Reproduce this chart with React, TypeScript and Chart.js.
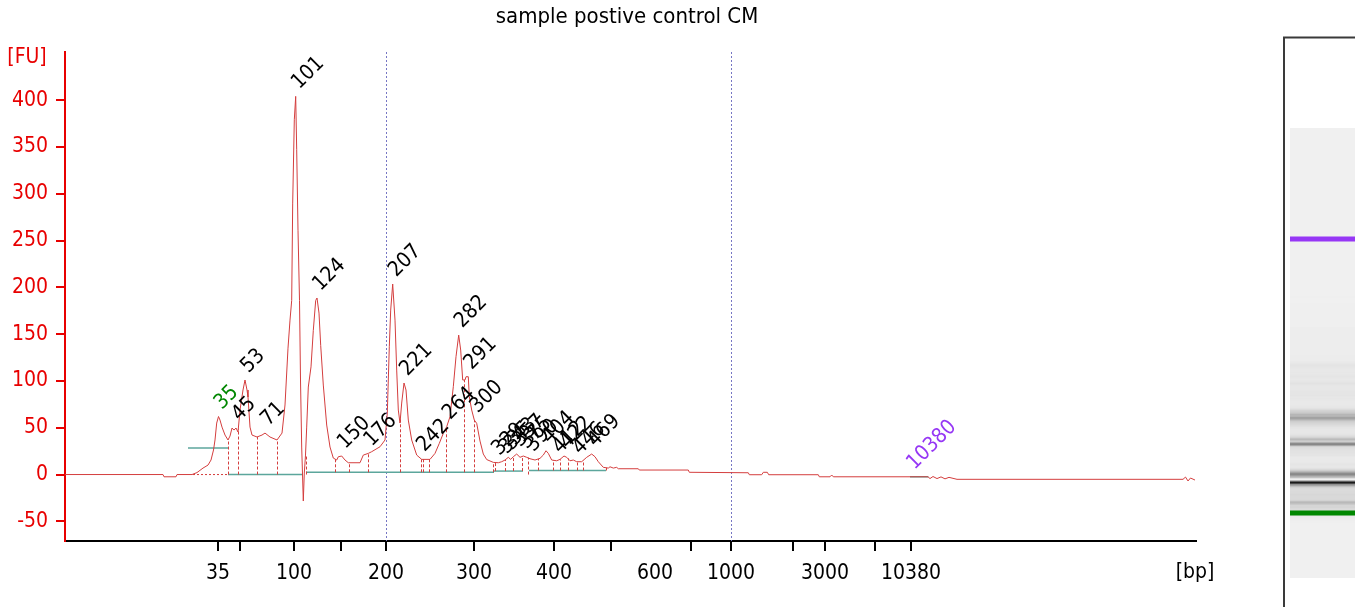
import React, { useEffect, useRef } from 'react';
import { Chart, registerables } from 'chart.js';

Chart.register(...registerables);

const FONT = "'DejaVu Sans Condensed', 'Liberation Sans', sans-serif";
const TRACE = 'rgb(212,62,62)';
const AXIS_RED = 'rgb(232,0,0)';
const TEAL = 'rgb(92,166,156)';
const GUIDE = 'rgb(118,118,196)';
const LOWER_COLOR = 'rgb(0,135,0)';
const UPPER_COLOR = 'rgb(150,55,245)';

const chartTitle = 'sample postive control CM';

// migration time (s) and fluorescence (FU)
const traceTime = [28.0, 37.8, 37.9, 39.1, 39.2, 40.7, 41.2, 41.8, 42.3, 42.6,
  42.85, 43.0, 43.17, 43.35, 43.5, 43.7, 44.0, 44.3, 44.5, 44.7,
  44.9, 45.1, 45.3, 45.5, 45.8, 46.0, 46.2, 46.3, 46.5, 46.7,
  47.2, 47.7, 48.0, 48.5, 49.2, 49.7, 50.0, 50.3, 50.5, 50.67,
  50.77, 50.93, 51.07, 51.17, 51.3, 51.45, 51.55, 51.67, 51.83, 51.93,
  52.05, 52.17, 52.33, 52.6, 52.83, 53.07, 53.2, 53.4, 53.57, 53.83,
  54.17, 54.5, 54.83, 55.17, 55.33, 55.67, 56.0, 56.33, 57.5, 57.83,
  58.33, 58.67, 59.5, 60.0, 60.23, 60.43, 60.57, 60.77, 61.0, 61.17,
  61.33, 61.5, 61.67, 61.9, 62.1, 62.33, 62.67, 63.17, 63.67, 64.5,
  65.0, 65.43, 65.83, 66.17, 66.5, 66.83, 67.1, 67.37, 67.57, 67.77,
  68.0, 68.1, 68.33, 68.43, 68.67, 68.93, 69.17, 69.5, 69.83, 70.17,
  70.83, 71.33, 71.67, 72.0, 72.33, 72.57, 72.83, 73.17, 73.5, 73.83,
  74.17, 74.5, 75.0, 75.5, 75.83, 76.1, 76.33, 76.67, 77.17, 77.5,
  77.9, 78.17, 78.5, 78.83, 79.17, 79.67, 80.17, 80.67, 81.0, 81.33,
  81.83, 82.33, 82.5, 82.83, 83.17, 83.33, 85.33, 85.43, 90.33, 90.43,
  96.33, 96.43, 97.67, 97.83, 98.23, 98.37, 103.33, 103.43, 104.5, 104.67,
  104.83, 114.3, 114.5, 114.8, 115.2, 115.6, 116.0, 116.4, 117.2, 139.8,
  140.05, 140.3, 140.55, 141.0];

const traceFU = [0, 0, -2.4, -2.4, 0, 0, 2.1, 6.9, 10.1, 15.5,
  26.2, 36.9, 55, 62, 58.2, 50.7, 42.2, 36.9, 41.1, 49.7,
  47.5, 49.7, 45.4, 68.9, 90.3, 101, 90.3, 82.8, 50.7, 42.2,
  40.1, 42.2, 44.3, 40.1, 36.9, 44.3, 74.3, 135, 165, 186,
  290, 379, 404, 347, 261, 186, 101, 29.4, -28.3, 1.6,
  20.8, 50.7, 93.5, 115, 154, 186, 188.6, 172.5, 138, 95.6,
  52.9, 29.4, 17.6, 15.5, 19, 19.8, 15.5, 12.6, 12.6, 20.8,
  22.6, 24.4, 29.7, 36.9, 65.7, 136.5, 175.7, 203.5, 165, 111.6,
  68.9, 55, 76.4, 97.8, 90.3, 58.2, 36.9, 20.8, 16.2, 16.2,
  22.6, 33.3, 44, 51.1, 61.8, 93.8, 125.9, 149, 133, 101,
  101, 104.5, 104.5, 83.1, 68.9, 58.2, 54.7, 35.8, 21.9, 16,
  13, 12.6, 13.7, 15.5, 18.4, 16.2, 19, 21.9, 18.4, 19.8,
  18.4, 16.9, 15.5, 17.3, 20.8, 25.4, 22.6, 15.5, 14.7, 16.2,
  19.8, 18.4, 14.7, 15.5, 13.7, 13.7, 18.4, 21.9, 19, 13.7,
  7.7, 6.9, 8.3, 6.9, 7.7, 6.2, 6.2, 4.8, 4.8, 2.4,
  1.9, -0.2, -0.2, 2.4, 2.4, -0.2, -0.2, -2.4, -2.4, -0.5,
  -2.4, -2.4, -4.3, -2.1, -4.3, -2.5, -4.6, -3.0, -5.1, -5.1,
  -2.7, -6.9, -3.7, -5.9];

// ladder positions on the time axis
const xTickTimes = [43.3, 45.5, 50.9, 55.6, 60.1, 68.9, 76.9, 82.6, 87.0, 90.6, 94.6, 100.8, 104.0, 109.0, 112.6];
const xTickLabels = ['35', '', '100', '', '200', '300', '400', '', '600', '', '1000', '', '3000', '', '10380'];
const yTicks = [-50, 0, 50, 100, 150, 200, 250, 300, 350, 400];

// size guides (200 bp, 1000 bp)
const guideTimes = [60.1, 94.6];

// called peaks
const peakLabels = ['45', '53', '71', '101', '124', '150', '176', '207', '221', '242', '264', '282', '291', '300',
  '329', '335', '343', '357', '375', '390', '404', '412', '422', '446', '469'];
const peakTimes = [45.1, 46.0, 48.0, 51.07, 53.2, 55.67, 58.33, 60.77, 61.9, 63.6, 66.17, 67.37, 68.33, 68.93,
  71.1, 71.83, 72.33, 73.17, 73.83, 74.5, 76.1, 77.17, 77.9, 79.17, 80.67];

// markers: lower, upper
const markerLabels = ['35', '10380'];
const markerTimes = [43.35, 112.6];

// peak region boundaries
const boundaryTimes = [44.33, 45.33, 47.17, 49.17, 52.05, 55.0, 56.37, 58.33, 61.53, 63.57, 63.83, 64.43,
  66.1, 67.93, 68.93, 70.83, 71.0, 72.0, 72.83, 73.67, 74.25, 75.33, 76.77, 77.5, 78.27, 79.17, 79.83, 82.1];

// baselines
const baseStart = [40.3, 44.3, 52.1, 70.9, 74.4, 112.5];
const baseEnd = [44.3, 51.8, 70.9, 73.8, 82.1, 114.33];
const baseFU = [28.3, 0, 2.4, 3.7, 4.3, -2.4];
const markerBaseStart = [40.8];
const markerBaseEnd = [44.3];

function interp(t: number): number {
  if (t <= traceTime[0]) return traceFU[0];
  for (let i = 1; i < traceTime.length; i++) {
    if (t <= traceTime[i]) {
      const t0 = traceTime[i - 1];
      const t1 = traceTime[i];
      const f = (t - t0) / (t1 - t0);
      return traceFU[i - 1] + f * (traceFU[i] - traceFU[i - 1]);
    }
  }
  return traceFU[traceFU.length - 1];
}

function baselineAt(t: number): number {
  for (let i = 0; i < baseStart.length; i++) {
    if (t >= baseStart[i] && t <= baseEnd[i]) return baseFU[i];
  }
  return 0;
}

// gel lane layout
const GEL_LEFT = 1290;
const GEL_RIGHT = 1361;
const GEL_TOP = 128;
const GEL_BOTTOM = 578;
const GEL_LOW_Y = 513;
const GEL_HIGH_Y = 239;

function gelY(t: number): number {
  return GEL_LOW_Y + (t - markerTimes[0]) / (markerTimes[1] - markerTimes[0]) * (GEL_HIGH_Y - GEL_LOW_Y);
}
function gelT(y: number): number {
  return markerTimes[0] + (y - GEL_LOW_Y) / (GEL_HIGH_Y - GEL_LOW_Y) * (markerTimes[1] - markerTimes[0]);
}

const overlay = {
  id: 'overlay',
  beforeDatasetsDraw(chart: any) {
    const { ctx, chartArea, scales } = chart;
    const x = scales.x;
    ctx.save();
    ctx.strokeStyle = GUIDE;
    ctx.lineWidth = 1;
    ctx.setLineDash([2, 2]);
    for (const t of guideTimes) {
      const px = Math.round(x.getPixelForValue(t)) + 0.5;
      ctx.beginPath();
      ctx.moveTo(px, chartArea.top);
      ctx.lineTo(px, chartArea.bottom);
      ctx.stroke();
    }
    ctx.restore();
  },
  afterDatasetsDraw(chart: any) {
    const { ctx, chartArea, scales } = chart;
    const x = scales.x;
    const y = scales.y;
    ctx.save();
    ctx.beginPath();
    ctx.rect(chartArea.left, chartArea.top, chartArea.right - chartArea.left, chartArea.bottom - chartArea.top);
    ctx.clip();
    ctx.strokeStyle = TRACE;
    ctx.lineWidth = 1;
    ctx.setLineDash([3, 2]);
    for (const t of boundaryTimes) {
      const px = Math.round(x.getPixelForValue(t)) + 0.5;
      ctx.beginPath();
      ctx.moveTo(px, y.getPixelForValue(baselineAt(t)));
      ctx.lineTo(px, y.getPixelForValue(interp(t)));
      ctx.stroke();
    }
    ctx.restore();
  },
  afterDraw(chart: any) {
    const { ctx, scales } = chart;
    const x = scales.x;
    const y = scales.y;
    ctx.save();
    // title and unit labels
    ctx.fillStyle = '#000';
    ctx.font = `22px ${FONT}`;
    ctx.textAlign = 'center';
    ctx.textBaseline = 'middle';
    ctx.fillText(chartTitle, 627, 17);
    ctx.font = `21px ${FONT}`;
    ctx.fillStyle = AXIS_RED;
    ctx.fillText('[FU]', 27, 58);
    ctx.fillStyle = '#000';
    ctx.fillText('[bp]', 1195, 573);

    // peak labels
    const drawLabel = (text: string, t: number, color: string) => {
      const px = x.getPixelForValue(t);
      const py = y.getPixelForValue(interp(t));
      ctx.save();
      ctx.translate(px + 3.5, py - 6.5);
      ctx.rotate(-Math.PI / 4);
      ctx.fillStyle = color;
      ctx.textAlign = 'left';
      ctx.textBaseline = 'alphabetic';
      ctx.font = `21px ${FONT}`;
      ctx.fillText(text, 0, 0);
      ctx.restore();
    };
    peakLabels.forEach((l, i) => drawLabel(l, peakTimes[i], '#000'));
    drawLabel(markerLabels[0], markerTimes[0], LOWER_COLOR);
    drawLabel(markerLabels[1], markerTimes[1], UPPER_COLOR);

    // gel lane
    ctx.strokeStyle = '#3a3a3a';
    ctx.lineWidth = 2;
    ctx.setLineDash([]);
    ctx.beginPath();
    ctx.moveTo(1284, 607);
    ctx.lineTo(1284, 37.5);
    ctx.lineTo(1360, 37.5);
    ctx.stroke();
    for (let row = GEL_TOP; row < GEL_BOTTOM; row++) {
      const ta = gelT(row + 1);
      const tb = gelT(row);
      let s = 0;
      for (let k = 0; k < 8; k++) s += interp(ta + (tb - ta) * (k + 0.5) / 8);
      const avg = Math.max(0, s / 8);
      const g = Math.max(0, Math.min(240, Math.round(240 - 0.56 * avg)));
      ctx.fillStyle = `rgb(${g},${g},${g})`;
      ctx.fillRect(GEL_LEFT, row, GEL_RIGHT - GEL_LEFT, 1);
    }
    ctx.fillStyle = LOWER_COLOR;
    ctx.fillRect(GEL_LEFT, gelY(markerTimes[0]) - 2.5, GEL_RIGHT - GEL_LEFT, 5);
    ctx.fillStyle = UPPER_COLOR;
    ctx.fillRect(GEL_LEFT, gelY(markerTimes[1]) - 2.5, GEL_RIGHT - GEL_LEFT, 5);
    ctx.restore();
  },
};

export default function App() {
  const ref = useRef<HTMLCanvasElement>(null);
  useEffect(() => {
    document.body.style.margin = '0';
    const datasets: any[] = [
      {
        data: traceTime.map((t, i) => ({ x: t, y: traceFU[i] })),
        borderColor: TRACE,
        borderWidth: 1,
        pointRadius: 0,
        tension: 0,
      },
    ];
    baseStart.forEach((s, i) => {
      datasets.push({
        data: [{ x: s, y: baseFU[i] }, { x: baseEnd[i], y: baseFU[i] }],
        borderColor: TEAL,
        borderWidth: 1.5,
        pointRadius: 0,
      });
    });
    markerBaseStart.forEach((s, i) => {
      datasets.push({
        data: [{ x: s, y: 0 }, { x: markerBaseEnd[i], y: 0 }],
        borderColor: TRACE,
        borderWidth: 1,
        borderDash: [2, 2],
        pointRadius: 0,
      });
    });
    const chart = new Chart(ref.current as HTMLCanvasElement, {
      type: 'line',
      data: { datasets },
      plugins: [overlay],
      options: {
        animation: false,
        responsive: false,
        devicePixelRatio: 1,
        layout: { padding: { left: 0, right: 159, top: 52, bottom: 0 } },
        plugins: { legend: { display: false }, tooltip: { enabled: false }, title: { display: false } },
        scales: {
          x: {
            type: 'linear',
            min: 28,
            max: 141.1,
            afterBuildTicks: (s: any) => { s.ticks = xTickTimes.map((v) => ({ value: v })); },
            afterFit: (s: any) => { s.height = 66; },
            ticks: {
              autoSkip: false,
              maxRotation: 0,
              padding: 10,
              color: '#000',
              font: { family: FONT, size: 21 },
              callback: (_v: any, i: number) => xTickLabels[i],
            },
            grid: {
              drawOnChartArea: false,
              drawTicks: true,
              tickLength: 10,
              lineWidth: 2,
              color: (c: any) => (xTickLabels[c.index] === '600' ? 'rgba(0,0,0,0)' : '#000'),
            },
            border: { display: true, color: '#000', width: 2 },
          },
          y: {
            type: 'linear',
            min: -71,
            max: 451.4,
            afterBuildTicks: (s: any) => { s.ticks = yTicks.map((v) => ({ value: v })); },
            afterFit: (s: any) => { s.width = 65; },
            ticks: {
              padding: 8,
              color: AXIS_RED,
              font: { family: FONT, size: 21 },
            },
            grid: {
              drawOnChartArea: false,
              drawTicks: true,
              tickLength: 9,
              lineWidth: 2,
              color: AXIS_RED,
            },
            border: { display: true, color: AXIS_RED, width: 2 },
          },
        },
      } as any,
    });
    return () => chart.destroy();
  }, []);
  return <canvas ref={ref} width={1355} height={607} style={{ display: 'block', width: 1355, height: 607 }} />;
}
